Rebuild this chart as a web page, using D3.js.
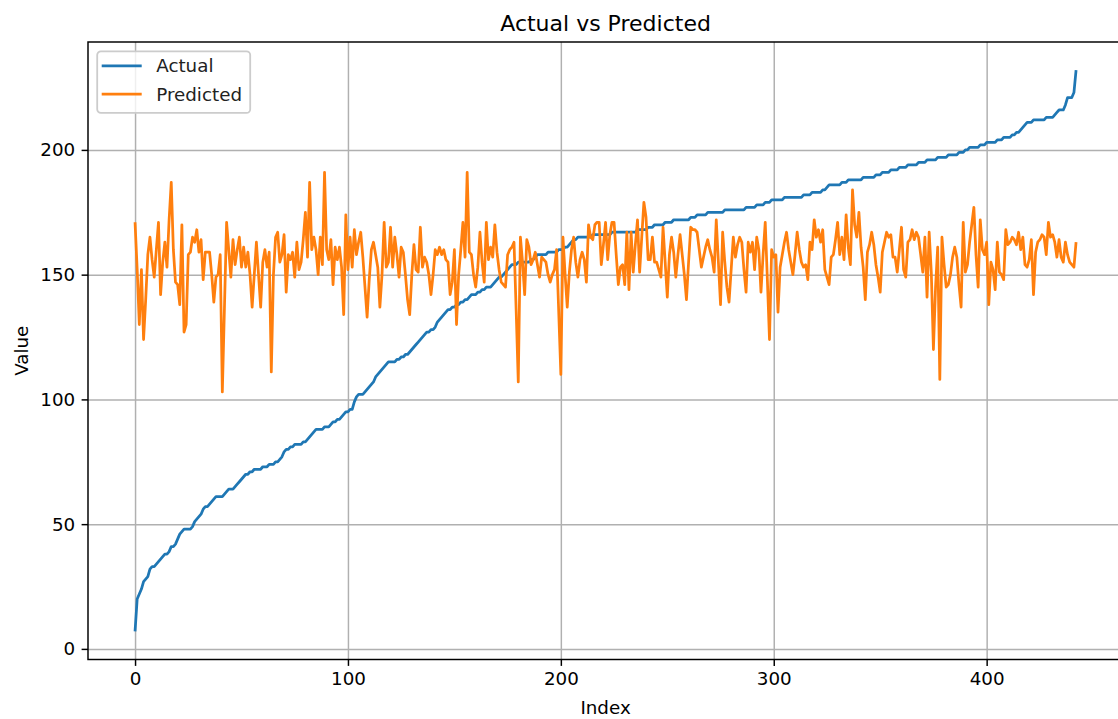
<!DOCTYPE html>
<html>
<head>
<meta charset="utf-8">
<script src="https://cdn.jsdelivr.net/npm/d3@7"></script>
<style>
  html, body { margin: 0; padding: 0; background: #fff; }
  svg { display: block; font-family: "DejaVu Sans", sans-serif; }
</style>
</head>
<body>
<svg id="chart" width="1118" height="719"></svg>
<script>
// values, index 0..442
const actual = [
  7,20,22,24,27,28,29,32,33,33,
  34,35,36,37,38,38,39,41,41,42,
  44,46,47,48,48,48,48,49,51,52,
  53,54,56,57,57,58,59,60,61,61,
  61,61,62,63,64,64,64,65,66,67,
  68,69,70,70,71,71,72,72,72,72,
  73,73,73,74,74,74,75,75,76,77,
  79,80,80,81,81,82,82,82,82,83,
  83,84,85,86,87,88,88,88,88,89,
  89,89,90,91,91,92,92,93,94,95,
  95,96,96,99,101,102,102,102,103,104,
  105,106,107,109,110,111,112,113,114,115,
  115,115,115,116,116,117,117,118,118,119,
  120,121,122,123,124,125,126,127,127,128,
  128,129,131,132,133,134,135,136,136,137,
  137,138,138,139,139,140,140,141,142,142,
  142,143,143,144,144,145,145,145,146,147,
  148,149,149,150,151,152,153,154,154,154,
  155,155,155,155,155,155,156,156,157,158,
  158,158,158,158,159,159,159,159,159,160,
  160,160,161,161,162,163,164,164,165,165,
  165,165,165,165,165,166,166,166,166,166,
  166,166,166,166,167,167,167,167,167,167,
  167,167,167,167,167,167,168,168,168,168,
  168,169,169,169,170,170,170,170,170,171,
  171,171,171,172,172,172,172,172,172,172,
  172,173,173,173,174,174,174,174,174,175,
  175,175,175,175,175,175,175,176,176,176,
  176,176,176,176,176,176,176,177,177,177,
  177,177,178,178,178,178,179,179,179,180,
  180,180,180,180,180,181,181,181,181,181,
  181,181,181,181,182,182,182,182,183,183,
  183,183,183,184,184,185,186,186,186,186,
  186,186,187,187,187,188,188,188,188,188,
  188,188,189,189,189,189,189,189,190,190,
  190,191,191,191,191,192,192,192,192,193,
  193,193,193,194,194,194,194,194,195,195,
  195,195,196,196,196,196,196,197,197,197,
  197,197,198,198,198,198,198,199,199,199,
  200,200,201,201,201,201,201,202,202,202,
  203,203,203,203,203,204,204,204,205,205,
  205,205,206,206,207,207,208,209,210,211,
  211,211,212,212,212,212,212,212,213,213,
  213,213,214,215,216,216,216,218,221,221,
  221,223,232
];

const predicted = [
  171,152,130,152,124,140,158,165,156,149,
  160,171,142,155,163,153,172,187,160,147,
  146,138,170,127,130,158,159,165,163,168,
  159,164,148,159,159,159,150,139,149,150,
  158,103,137,171,160,149,164,154,160,165,
  153,161,153,159,150,137,150,163,150,137,
  155,160,153,159,111,150,165,167,155,158,
  166,143,158,156,159,149,163,152,155,164,
  175,157,187,160,165,160,150,165,154,191,
  160,156,164,146,161,156,161,153,134,174,
  152,165,153,168,158,163,167,157,145,133,
  148,160,163,158,153,137,150,171,153,155,
  169,153,165,158,149,161,159,150,140,134,
  150,162,152,151,169,153,157,155,150,142,
  150,160,158,161,158,160,156,155,142,147,
  160,130,150,160,171,157,191,159,158,150,
  145,153,167,155,147,171,156,161,157,170,
  159,152,147,146,145,158,160,161,163,136,
  107,165,155,142,164,161,154,156,159,154,
  149,157,156,155,150,147,150,152,160,135,
  110,165,150,137,151,160,165,155,149,156,
  159,156,147,170,165,164,170,171,171,154,
  162,171,156,166,171,171,158,146,153,154,
  146,167,144,167,151,162,172,151,165,179,
  173,156,156,165,155,155,152,149,169,155,
  141,158,165,159,149,158,166,158,150,140,
  155,169,168,168,167,160,153,157,161,164,
  160,157,151,172,155,138,167,155,145,139,
  152,165,157,162,165,163,152,143,163,159,
  163,152,165,160,143,158,171,148,124,160,
  157,158,135,153,158,163,167,160,155,150,
  158,167,160,155,153,154,148,163,160,172,
  165,168,163,168,152,149,146,157,158,164,
  171,158,165,156,174,161,154,184,170,165,
  175,161,153,140,159,162,167,162,154,149,
  143,159,163,167,165,166,157,157,151,160,
  169,152,149,163,164,168,164,167,165,158,
  151,165,141,167,151,120,145,161,108,165,
  154,145,146,150,157,161,157,146,137,171,
  151,154,163,170,177,158,145,172,160,158,
  163,138,155,152,144,163,151,150,148,168,
  162,163,165,164,162,167,160,165,154,153,
  156,164,142,159,163,164,166,165,158,171,
  165,166,163,157,164,157,155,163,158,155,
  154,153,163
];

const xTicks = [0, 100, 200, 300, 400];
const yTicks = [0, 50, 100, 150, 200];
const seriesNames = ['Actual', 'Predicted'];
const seriesColors = ['#1f77b4', '#ff7f0e'];

const svg = d3.select('#chart');

// axes box (right side runs past the picture edge, like the reference)
const plotLeft = 88, plotTop = 42, plotBottom = 659.5;
const pxPerIndex = 2.129;
const n = actual.length;
const xPad = (n - 1) * 0.05;
const plotRight = plotLeft + ((n - 1) + 2 * xPad) * pxPerIndex;

const allVals = actual.concat(predicted);
const yMin = d3.min(allVals), yMax = d3.max(allVals);
const yPad = (yMax - yMin) * 0.05;

const x = d3.scaleLinear().domain([-xPad, n - 1 + xPad]).range([plotLeft, plotRight]);
const y = d3.scaleLinear().domain([yMin - yPad, yMax + yPad]).range([plotBottom, plotTop]);

const tickFont = 18.3;
const lw = 1.47;

// grid
svg.append('g')
  .attr('transform', `translate(0,${plotBottom})`)
  .call(d3.axisBottom(x).tickValues(xTicks).tickSize(-(plotBottom - plotTop)).tickFormat(''))
  .call(g => g.select('.domain').remove())
  .call(g => g.selectAll('line').attr('stroke', '#b0b0b0').attr('stroke-width', lw));

svg.append('g')
  .attr('transform', `translate(${plotLeft},0)`)
  .call(d3.axisLeft(y).tickValues(yTicks).tickSize(-(plotRight - plotLeft)).tickFormat(''))
  .call(g => g.select('.domain').remove())
  .call(g => g.selectAll('line').attr('stroke', '#b0b0b0').attr('stroke-width', lw));

// lines
const line = d3.line()
  .x((d, i) => x(i))
  .y(d => y(d));

[actual, predicted].forEach((data, k) => {
  svg.append('path')
    .attr('d', line(data))
    .attr('fill', 'none')
    .attr('stroke', seriesColors[k])
    .attr('stroke-width', 2.75)
    .attr('stroke-linejoin', 'round')
    .attr('stroke-linecap', 'butt');
});

// spines
svg.append('rect')
  .attr('x', plotLeft).attr('y', plotTop)
  .attr('width', plotRight - plotLeft).attr('height', plotBottom - plotTop)
  .attr('fill', 'none').attr('stroke', '#000').attr('stroke-width', lw);

// tick axes
const xAxis = svg.append('g')
  .attr('transform', `translate(0,${plotBottom})`)
  .call(d3.axisBottom(x).tickValues(xTicks).tickSize(6.4).tickPadding(6.4).tickFormat(d3.format('d')));
const yAxis = svg.append('g')
  .attr('transform', `translate(${plotLeft},0)`)
  .call(d3.axisLeft(y).tickValues(yTicks).tickSize(6.4).tickPadding(6.4).tickFormat(d3.format('d')));

[xAxis, yAxis].forEach(g => {
  g.select('.domain').remove();
  g.selectAll('line').attr('stroke', '#000').attr('stroke-width', lw);
  g.selectAll('text')
    .attr('fill', '#000')
    .style('font-family', '"DejaVu Sans", sans-serif')
    .style('font-size', tickFont + 'px');
});

// title and axis labels
svg.append('text')
  .attr('x', (plotLeft + plotRight) / 2).attr('y', 31)
  .attr('text-anchor', 'middle')
  .style('font-size', '22px')
  .text('Actual vs Predicted');

svg.append('text')
  .attr('x', (plotLeft + plotRight) / 2).attr('y', 714)
  .attr('text-anchor', 'middle')
  .style('font-size', tickFont + 'px')
  .text('Index');

svg.append('text')
  .attr('transform', `translate(28,${(plotTop + plotBottom) / 2}) rotate(-90)`)
  .attr('text-anchor', 'middle')
  .style('font-size', tickFont + 'px')
  .text('Value');

// legend
const legend = svg.append('g').attr('transform', `translate(${plotLeft + 9.2},${plotTop + 9.4})`);
legend.append('rect')
  .attr('width', 153).attr('height', 61.5)
  .attr('rx', 3.7)
  .attr('fill', 'rgba(255,255,255,0.8)')
  .attr('stroke', '#cccccc')
  .attr('stroke-width', 1.8);

seriesNames.forEach((name, k) => {
  const cy = 14.5 + k * 28.3;
  legend.append('line')
    .attr('x1', 4.5).attr('x2', 44.5)
    .attr('y1', cy).attr('y2', cy)
    .attr('stroke', seriesColors[k])
    .attr('stroke-width', 2.75);
  legend.append('text')
    .attr('x', 59).attr('y', cy)
    .attr('dy', '0.35em')
    .style('font-size', tickFont + 'px')
    .attr('fill', '#222')
    .text(name);
});
</script>
</body>
</html>
